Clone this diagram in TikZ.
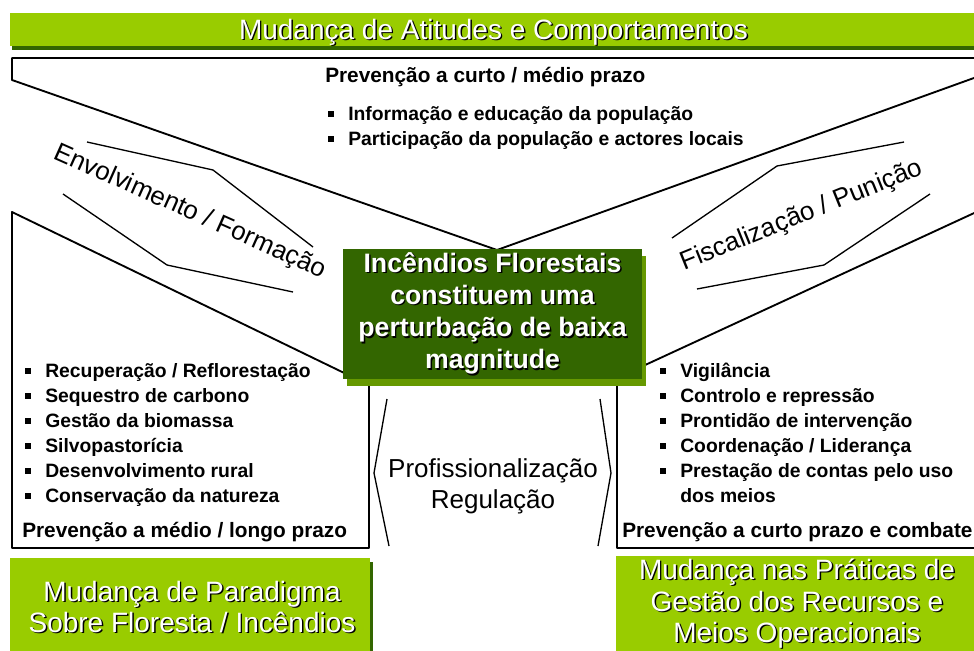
\documentclass[tikz,border=0pt]{standalone}
\usepackage{fontspec}
\setmainfont{Liberation Sans}
\usetikzlibrary{shadows}
\definecolor{bargreen}{RGB}{153, 204, 0}
\definecolor{forestgreen}{RGB}{51, 102, 0}
\definecolor{olivegreen}{RGB}{102, 153, 0}
\newcommand{\shadowed}[1]{\makebox[0pt][l]{\hspace{1.1pt}\raisebox{-1.1pt}{\color{black}#1}}{\color{white}#1}}
\newcommand{\sqbullet}{\llap{\rule[2.6pt]{4.5pt}{4.5pt}\hspace{10.5pt}}}

\begin{document}
\begin{tikzpicture}[x=0.75pt, y=-0.75pt,
    outline/.style={line width=1.4pt, line join=round},
    bandline/.style={line width=1pt},
    itemtext/.style={anchor=base west, inner sep=0pt, font=\fontsize{14.5}{17}\selectfont\bfseries},
    headtext/.style={anchor=base west, inner sep=0pt, font=\fontsize{15.6}{18}\selectfont\bfseries},
    bartext/.style={anchor=base, inner sep=0pt, font=\fontsize{21}{25}\selectfont},
    bandtext/.style={inner sep=0pt, font=\fontsize{19.5}{22}\selectfont},
    centerbox/.style={fill=forestgreen, minimum width=224.25pt, minimum height=97.5pt,
        align=center, inner sep=0pt, font=\fontsize{20}{24.2}\selectfont\bfseries,
        drop shadow={fill=olivegreen, opacity=1, shadow xshift=3pt, shadow yshift=-5pt}}]
    \useasboundingbox (0, 0) rectangle (974, 650);

    % green bars
    \fill[forestgreen] (12, 46) rectangle (990, 50);
    \fill[bargreen] (10, 13) rectangle (990, 46);
    \fill[forestgreen] (370, 562) rectangle (373, 660);
    \fill[bargreen] (10, 558) rectangle (370, 660);
    \fill[bargreen] (616, 556) rectangle (990, 660);

    % outlines
    \draw[outline] (12, 58) -- (985, 58) -- (985, 74) -- (497, 250) -- (12, 80) -- cycle;
    \draw[outline] (12, 212) -- (369, 385) -- (369, 548) -- (12, 548) -- cycle;
    \draw[outline] (985, 208) -- (617, 378) -- (617, 548) -- (985, 548) -- cycle;

    % bands and brackets
    \draw[bandline] (87, 142) -- (213, 170) -- (313, 247);
    \draw[bandline] (63, 194) -- (167, 265) -- (293, 292);
    \draw[bandline] (904, 142) -- (777, 166) -- (672, 238);
    \draw[bandline] (930, 194) -- (824, 265) -- (697, 289);
    \draw[bandline] (387, 399) -- (374, 473) -- (389, 546);
    \draw[bandline] (600, 399) -- (611, 473) -- (598, 546);

    \node[centerbox] (fires) at (492.5, 314) {\shadowed{Incêndios Florestais}\\ \shadowed{constituem uma}\\
        \shadowed{perturbação de baixa}\\ \shadowed{magnitude}};

    \node[bartext] (attitudes) at (493.5, 39) {\shadowed{Mudança de Atitudes e Comportamentos}};
    \node[bartext] (paradigm1) at (192, 601) {\shadowed{Mudança de Paradigma}};
    \node[bartext] (paradigm2) at (192, 632) {\shadowed{Sobre Floresta / Incêndios}};
    \node[bartext] (practice1) at (797, 579) {\shadowed{Mudança nas Práticas de}};
    \node[bartext] (practice2) at (797, 611) {\shadowed{Gestão dos Recursos e}};
    \node[bartext] (practice3) at (797, 642) {\shadowed{Meios Operacionais}};

    \node[bandtext, rotate=-24] (involve) at (190, 212) {Envolvimento / Formação};
    \node[bandtext, rotate=22] (enforce) at (802, 216) {Fiscalização / Punição};

    \node[bandtext, anchor=base] (prof) at (493, 477) {Profissionalização};
    \node[bandtext, anchor=base] (regul) at (493, 508) {Regulação};

    \node[headtext] (topprev) at (325, 82) {Prevenção a curto / médio prazo};
    \node[itemtext] (info) at (348, 120) {\sqbullet Informação e educação da população};
    \node[itemtext] (partic) at (348, 145) {\sqbullet Participação da população e actores locais};

    \node[itemtext] (recup) at (45, 377) {\sqbullet Recuperação / Reflorestação};
    \node[itemtext] (seq) at (45, 402) {\sqbullet Sequestro de carbono};
    \node[itemtext] (biom) at (45, 427) {\sqbullet Gestão da biomassa};
    \node[itemtext] (silvo) at (45, 452) {\sqbullet Silvopastorícia};
    \node[itemtext] (rural) at (45, 477) {\sqbullet Desenvolvimento rural};
    \node[itemtext] (nature) at (45, 502) {\sqbullet Conservação da natureza};
    \node[headtext] (leftprev) at (22, 537) {Prevenção a médio / longo prazo};

    \node[itemtext] (vigil) at (680, 377) {\sqbullet Vigilância};
    \node[itemtext] (control) at (680, 402) {\sqbullet Controlo e repressão};
    \node[itemtext] (ready) at (680, 427) {\sqbullet Prontidão de intervenção};
    \node[itemtext] (coord) at (680, 452) {\sqbullet Coordenação / Liderança};
    \node[itemtext] (account) at (680, 477) {\sqbullet Prestação de contas pelo uso};
    \node[itemtext] (means) at (680, 502) {dos meios};
    \node[headtext] (rightprev) at (622, 537) {Prevenção a curto prazo e combate};
\end{tikzpicture}
\end{document}
